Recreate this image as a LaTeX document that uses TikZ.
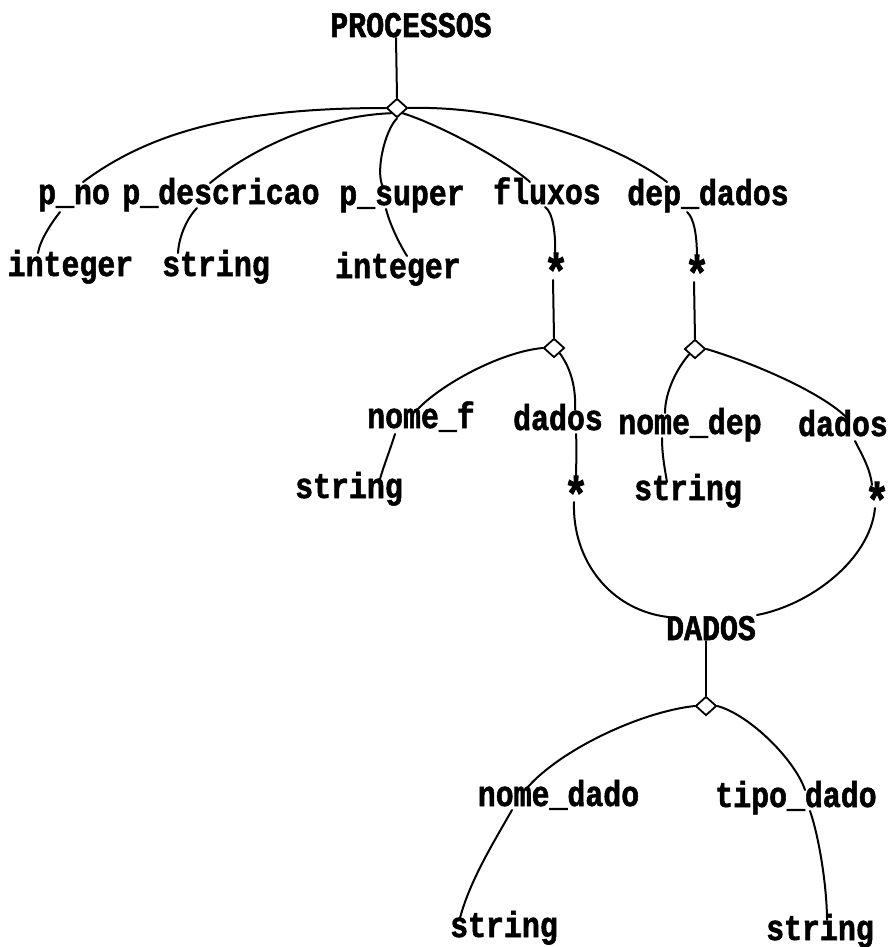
\documentclass[tikz,border=0pt]{standalone}
\usepackage{fontspec}
\newfontfamily\pixfont{Liberation Mono}[FakeStretch=0.83, BoldFeatures={FakeBold=1.5}]
\usetikzlibrary{shapes.geometric,calc}
\begin{document}
\begin{tikzpicture}[x=1pt,y=-1pt,
  lbl/.style={inner sep=0pt, anchor=base, font=\pixfont\bfseries\fontsize{36}{36}\selectfont},
  starlbl/.style={inner sep=0pt, anchor=base, font=\pixfont\bfseries\fontsize{50}{50}\selectfont},
  agg/.style={draw, diamond, inner sep=0pt, minimum width=21pt, minimum height=19pt, line width=1.8pt},
  link/.style={line width=2pt, line cap=round}]
\useasboundingbox (0,0) rectangle (892,947);

% root entity and its aggregation
\node[lbl] (proc) at (411,37) {PROCESSOS};
\node[agg] (d1) at (397,108) {};

% first level attributes
\node[lbl] (pno)   at (74,204)  {p\_no};
\node[lbl] (pdesc) at (221,204) {p\_descricao};
\node[lbl] (psup)  at (402,205) {p\_super};
\node[lbl] (flux)  at (547,204) {fluxos};
\node[lbl] (dep)   at (708,205) {dep\_dados};

% their types
\node[lbl] (int1) at (70.5,276) {integer};
\node[lbl] (str1) at (216,276)  {string};
\node[lbl] (int2) at (398,278)  {integer};
\node[starlbl] (s1) at (556,289) {*};
\node[starlbl] (s2) at (697,291) {*};

% set elements
\node[agg] (d2) at (554,348) {};
\node[agg] (d3) at (695,349) {};
\node[lbl] (nomef)   at (421,428) {nome\_f};
\node[lbl] (dados1)  at (558,430) {dados};
\node[lbl] (nomedep) at (690,434) {nome\_dep};
\node[lbl] (dados2)  at (843,436) {dados};
\node[lbl] (strf)   at (349,498) {string};
\node[starlbl] (s3) at (576,512) {*};
\node[lbl] (strdep) at (688,500) {string};
\node[starlbl] (s4) at (877,518) {*};

% shared DADOS entity
\node[lbl] (dad) at (711,640) {DADOS};
\node[agg] (d4) at (706,706) {};
\node[lbl] (nomedado) at (558.5,806) {nome\_dado};
\node[lbl] (tipodado) at (796,807)   {tipo\_dado};
\node[lbl] (strA) at (504,937) {string};
\node[lbl] (strB) at (820,940) {string};

% connectors of PROCESSOS
\draw[link] ($(proc.base)+(-15,1)$) -- (d1.north);
\draw[link] (d1.west) .. controls (237,108) and (150,132) .. ($(pno.base)+(9,-22)$);
\draw[link] (d1.south west) .. controls (320,116) and (250,150) .. ($(pdesc.base)+(-11,-21)$);
\draw[link] (d1.south) .. controls (385,130) and (375,172) .. ($(psup.base)+(-19,-18)$);
\draw[link] (d1.south east) .. controls (440,125) and (505,160) .. ($(flux.base)+(-17,-22)$);
\draw[link] (d1.east) .. controls (520,105) and (625,150) .. ($(dep.base)+(-41,-23)$);

\draw[link] ($(pno.base)+(-14,8)$) .. controls (52,222) and (40,240) .. ($(int1.base)+(-32.5,-23)$);
\draw[link] ($(pdesc.base)+(-24,4)$) .. controls (188,217) and (179,235) .. ($(str1.base)+(-38,-23)$);
\draw[link] ($(psup.base)+(-16,4)$) .. controls (390,225) and (400,245) .. ($(int2.base)+(9,-22)$);
\draw[link] ($(flux.base)+(-2,3)$) .. controls (553,212) and (556,235) .. ($(s1.base)+(-1,-33)$);
\draw[link] ($(dep.base)+(-21,7)$) .. controls (694,218) and (697,235) .. ($(s2.base)+(0,-33)$);

% set of fluxos
\draw[link] ($(s1.base)+(-3,-9)$) -- (d2.north);
\draw[link] (d2.west) .. controls (500,352) and (440,385) .. ($(nomef.base)+(-4,-18)$);
\draw[link] ($(nomef.base)+(-26,6)$) .. controls (390,450) and (383,468) .. ($(strf.base)+(31,-19)$);
\draw[link] (d2.south east) .. controls (572,370) and (576,390) .. ($(dados1.base)+(17,-20)$);
\draw[link] ($(dados1.base)+(18,4)$) .. controls (577,450) and (576,465) .. ($(s3.base)+(0,-33)$);

% set of dep_dados
\draw[link] ($(s2.base)+(-3,-9)$) -- (d3.north);
\draw[link] (d3.south west) .. controls (677,368) and (665,392) .. ($(nomedep.base)+(-25,-21)$);
\draw[link] ($(nomedep.base)+(-28,4)$) .. controls (662,455) and (665,470) .. ($(strdep.base)+(-21,-18)$);
\draw[link] (d3.east) .. controls (760,365) and (825,395) .. ($(dados2.base)+(4,-18)$);
\draw[link] ($(dados2.base)+(12,5)$) .. controls (862,455) and (870,468) .. ($(s4.base)+(-5,-33)$);

% both dados lead to DADOS
\draw[link] ($(s3.base)+(-2,-10)$) .. controls (572,560) and (610,610) .. ($(dad.base)+(-43,-23)$);
\draw[link] ($(s4.base)+(-2,-10)$) .. controls (870,560) and (810,605) .. ($(dad.base)+(46,-25)$);

% DADOS attributes
\draw[link] ($(dad.base)+(-5,1)$) -- (d4.north);
\draw[link] (d4.west) .. controls (640,712) and (560,750) .. ($(nomedado.base)+(-31.5,-18)$);
\draw[link] ($(nomedado.base)+(-46.5,4)$) .. controls (495,840) and (470,880) .. ($(strA.base)+(-44,-19)$);
\draw[link] (d4.east) .. controls (750,715) and (795,760) .. ($(tipodado.base)+(9,-17)$);
\draw[link] ($(tipodado.base)+(14,4)$) .. controls (820,840) and (827,890) .. ($(strB.base)+(7,-20)$);
\end{tikzpicture}
\end{document}
